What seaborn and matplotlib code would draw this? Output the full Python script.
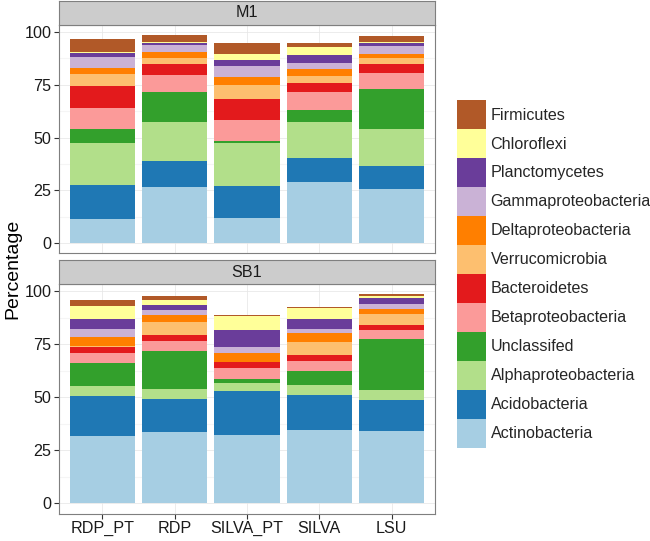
import pandas as pd
import matplotlib
matplotlib.use("Agg")
import matplotlib.pyplot as plt
from matplotlib.patches import Patch
import seaborn as sns

# categories (bottom of stack first)
methods = ["RDP_PT", "RDP", "SILVA_PT", "SILVA", "LSU"]
phyla = ["Actinobacteria", "Acidobacteria", "Alphaproteobacteria", "Unclassifed",
         "Betaproteobacteria", "Bacteroidetes", "Verrucomicrobia", "Deltaproteobacteria",
         "Gammaproteobacteria", "Planctomycetes", "Chloroflexi", "Firmicutes"]
sites = ["M1", "SB1"]

# percentages per method, same order as phyla
m1_rdp_pt = [11.3, 16.1, 20.1, 6.6, 10.0, 10.1, 6.1, 2.9, 5.2, 1.7, 0.5, 6.1]
m1_rdp = [26.7, 12.3, 18.2, 14.5, 7.9, 5.2, 3.1, 2.7, 3.1, 1.1, 0.5, 3.1]
m1_silva_pt = [11.6, 15.6, 20.0, 1.2, 10.1, 10.0, 6.4, 4.0, 5.1, 2.7, 2.8, 5.5]
m1_silva = [28.9, 11.5, 16.8, 6.0, 8.5, 4.1, 3.4, 3.3, 3.0, 3.8, 3.5, 2.0]
m1_lsu = [25.6, 10.7, 17.5, 19.0, 8.0, 4.2, 2.7, 2.1, 3.4, 1.6, 0.6, 2.9]

sb1_rdp_pt = [31.9, 18.9, 4.4, 11.0, 4.8, 2.9, 0.2, 4.4, 3.6, 4.7, 6.5, 2.8]
sb1_rdp = [33.8, 15.4, 4.9, 17.9, 4.6, 2.9, 5.9, 3.3, 2.5, 2.3, 2.7, 1.9]
sb1_silva_pt = [32.2, 20.9, 3.8, 1.9, 5.0, 2.8, 0.1, 4.3, 2.7, 8.0, 6.5, 0.5]
sb1_silva = [34.6, 16.5, 4.8, 6.6, 4.8, 2.6, 6.0, 4.4, 2.1, 4.5, 5.2, 0.5]
sb1_lsu = [34.2, 14.5, 4.9, 23.8, 4.2, 2.6, 5.1, 2.3, 2.4, 2.8, 1.1, 0.7]

site_values = {
    "M1": [m1_rdp_pt, m1_rdp, m1_silva_pt, m1_silva, m1_lsu],
    "SB1": [sb1_rdp_pt, sb1_rdp, sb1_silva_pt, sb1_silva, sb1_lsu],
}

rows = []
for site in sites:
    for method, vals in zip(methods, site_values[site]):
        for phylum, v in zip(phyla, vals):
            rows.append({"site": site, "method": method, "phylum": phylum, "value": v})
df = pd.DataFrame(rows)

sns.set_theme(style="white")
plt.rcParams["font.family"] = ["Liberation Sans", "DejaVu Sans"]

colors = dict(zip(phyla, sns.color_palette("Paired", 12)))
hue_order = phyla[::-1]  # seaborn stacks the first hue level on top

fig = plt.figure(figsize=(6.5, 5.41), dpi=100)
left, width = 0.0908, 0.5785
panels = {"M1": (0.5318, 0.4226, 0.9543, 0.0438), "SB1": (0.0508, 0.4242, 0.4750, 0.0444)}

ymax = df.groupby(["site", "method"])["value"].sum().max()
pad = ymax * 0.05
border = "#7f7f7f"

for i, site in enumerate(sites):
    b, h, sb, sh = panels[site]
    ax = fig.add_axes([left, b, width, h])
    sub = df[df["site"] == site]
    sns.histplot(data=sub, x="method", weights="value", hue="phylum", hue_order=hue_order,
                 multiple="stack", discrete=True, shrink=0.9, palette=colors,
                 alpha=1, linewidth=0, legend=False, ax=ax)
    ax.set_xlim(-0.6, len(methods) - 0.4)
    ax.set_ylim(-pad, ymax + pad)
    ax.set_yticks([0, 25, 50, 75, 100])
    ax.set_yticks([12.5, 37.5, 62.5, 87.5], minor=True)
    ax.set_xticks(range(len(methods)))
    ax.grid(True, which="major", color="#e5e5e5", linewidth=0.5)
    ax.grid(True, which="minor", axis="y", color="#f5f5f5", linewidth=0.8)
    ax.set_axisbelow(True)
    ax.set_xlabel("")
    ax.set_ylabel("")
    for s in ax.spines.values():
        s.set_color(border)
        s.set_linewidth(0.8)
    ax.tick_params(axis="y", which="major", left=True, length=3.5, width=0.8,
                   color="#333333", labelsize=11.6, labelcolor="#1a1a1a", pad=2)
    ax.tick_params(axis="y", which="minor", left=False)
    if i == len(sites) - 1:
        ax.set_xticklabels(methods)
        ax.tick_params(axis="x", bottom=True, length=3.5, width=0.8, color="#333333",
                       labelsize=11.6, labelcolor="#1a1a1a", pad=2)
    else:
        ax.tick_params(axis="x", bottom=False, labelbottom=False)

    # facet strip
    sax = fig.add_axes([left, sb, width, sh])
    sax.set_facecolor("#cccccc")
    sax.set_xticks([])
    sax.set_yticks([])
    for s in sax.spines.values():
        s.set_color(border)
        s.set_linewidth(0.8)
    sax.text(0.5, 0.5, site, ha="center", va="center", fontsize=11.6,
             color="#1a1a1a", transform=sax.transAxes)

fig.text(0.02, 0.503, "Percentage", rotation=90, ha="center", va="center",
         fontsize=14, color="black")

handles = [Patch(facecolor=colors[p], edgecolor="none") for p in hue_order]
fig.legend(handles, hue_order, loc="upper left", bbox_to_anchor=(0.7026, 0.815),
           frameon=False, fontsize=11.6, handlelength=1.85, handleheight=2.39,
           labelspacing=0.0, handletextpad=0.25, borderpad=0, borderaxespad=0)

fig.savefig("out.png", dpi=100)
